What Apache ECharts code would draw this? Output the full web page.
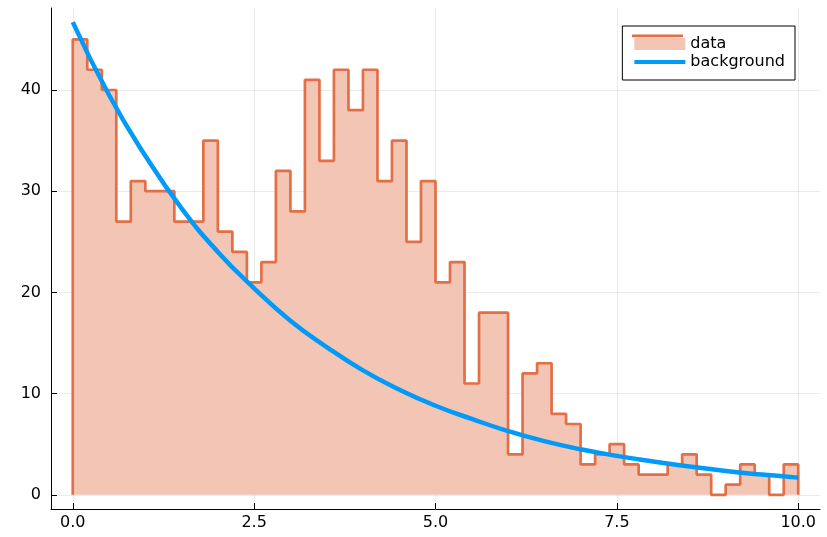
<!DOCTYPE html>
<html>
<head>
<meta charset="utf-8">
<script src="https://cdn.jsdelivr.net/npm/echarts@6/dist/echarts.min.js"></script>
<style>html,body{margin:0;padding:0;background:#fff}#c{width:827px;height:537px}</style>
</head>
<body>
<div id="c"></div>
<script>
// Histogram bins: left edges (width 0.2) and counts
const binEdges = [0,0.2,0.4,0.6,0.8,1.0,1.2,1.4,1.6,1.8,2.0,2.2,2.4,2.6,2.8,3.0,3.2,3.4,3.6,3.8,4.0,4.2,4.4,4.6,4.8,5.0,5.2,5.4,5.6,5.8,6.0,6.2,6.4,6.6,6.8,7.0,7.2,7.4,7.6,7.8,8.0,8.2,8.4,8.6,8.8,9.0,9.2,9.4,9.6,9.8,10.0];
const counts = [45,42,40,27,31,30,30,27,27,35,26,24,21,23,32,28,41,33,42,38,42,31,35,25,31,21,23,11,18,18,4,12,13,8,7,3,4,5,3,2,2,3,4,2,0,1,3,2,0,3];
// Background curve
const bgX = [0,0.5,1.0,1.5,2.0,2.5,3.0,3.5,4.0,4.5,5.0,5.5,6.0,6.5,7.0,7.5,8.0,8.5,9.0,9.5,10.0];
const bgY = [46.7,39.5,33.5,28.3,24.0,20.4,17.2,14.6,12.3,10.4,8.8,7.5,6.3,5.3,4.5,3.85,3.3,2.8,2.35,2.0,1.7];
const xTicks = [0,2.5,5,7.5,10];
const yTicks = [0,10,20,30,40];
const seriesNames = ['data','background'];

const histData = [[binEdges[0],0]];
for (let i=0;i<counts.length;i++) histData.push([binEdges[i],counts[i]]);
histData.push([binEdges[binEdges.length-1],counts[counts.length-1]]);
histData.push([binEdges[binEdges.length-1],0]);
const bgData = bgX.map((x,i)=>[x,bgY[i]]);

const orange = '#e26f46', blue = '#009af9', fill = '#f3c5b4';
const font = 'DejaVu Sans';
const chart = echarts.init(document.getElementById('c'), null, {renderer:'canvas'});
chart.setOption({
  animation:false,
  backgroundColor:'#fff',
  textStyle:{fontFamily:font},
  grid:{left:51,right:7,top:8,bottom:28,containLabel:false},
  xAxis:{
    type:'value', min:-0.3, max:10.3,
    axisLine:{show:true,onZero:false,lineStyle:{color:'#000',width:1}},
    axisTick:{show:true,inside:true,length:6,customValues:xTicks,lineStyle:{color:'#000'}},
    axisLabel:{customValues:xTicks,color:'#000',fontSize:16,fontFamily:font,margin:6,formatter:v=>v.toFixed(1)},
    splitLine:{show:true,lineStyle:{color:'rgba(0,0,0,0.08)',width:1}}
  },
  yAxis:{
    type:'value', min:-1.4, max:48.1,
    axisLine:{show:true,onZero:false,lineStyle:{color:'#000',width:1}},
    axisTick:{show:true,inside:true,length:6,customValues:yTicks,lineStyle:{color:'#000'}},
    axisLabel:{customValues:yTicks,color:'#000',fontSize:16,fontFamily:font,margin:10,formatter:v=>String(Math.round(v))},
    splitLine:{show:true,lineStyle:{color:'rgba(0,0,0,0.08)',width:1}}
  },
  legend:{
    orient:'vertical', right:32, top:26,
    backgroundColor:'#fff', borderColor:'#000', borderWidth:1, borderRadius:0,
    padding:[10,10,10,10], itemGap:2, itemWidth:51, itemHeight:12,
    textStyle:{fontFamily:font,fontSize:16,color:'#000',lineHeight:16},
    data:[
      {name:seriesNames[0], icon:'rect', itemStyle:{color:fill,borderWidth:0}},
      {name:seriesNames[1], itemStyle:{opacity:0}, lineStyle:{width:4,color:blue}}
    ]
  },
  graphic:[
    {type:'rect', left:632, top:34.5, shape:{width:51,height:2.7}, style:{fill:orange}, z:100}
  ],
  series:[
    {
      name:seriesNames[0], type:'line', step:'end', data:histData,
      symbol:'none', z:2,
      lineStyle:{color:orange,width:2.7},
      itemStyle:{color:fill},
      areaStyle:{color:fill,opacity:1,origin:0}
    },
    {
      name:seriesNames[1], type:'line', smooth:true, data:bgData,
      symbol:'none', z:3,
      lineStyle:{color:blue,width:4.5},
      itemStyle:{color:blue}
    }
  ]
});
</script>
</body>
</html>
